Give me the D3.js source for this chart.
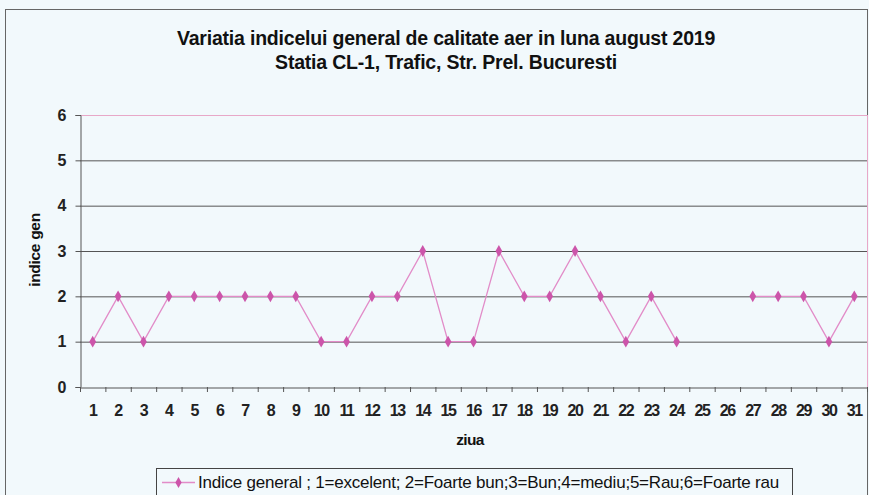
<!DOCTYPE html>
<html><head><meta charset="utf-8">
<script src="https://cdn.jsdelivr.net/npm/d3@7"></script>
<style>body{margin:0;background:#f2f9fc;}svg{display:block;font-family:"Liberation Sans",Arial,sans-serif;}</style>
</head><body>
<script>
const days = d3.range(1, 32).map(String);
const values = [1,2,1,2,2,2,2,2,2,1,1,2,2,3,1,1,3,2,2,3,2,1,2,1,null,null,2,2,2,1,2];
const yTicks = [0,1,2,3,4,5,6];
const titleLines = ["Variatia indicelui general de calitate aer in luna august 2019", "Statia CL-1, Trafic, Str. Prel. Bucuresti"];
const legendLabel = "Indice  general ; 1=excelent; 2=Foarte bun;3=Bun;4=mediu;5=Rau;6=Foarte rau";

const W = 869, H = 495;
const m = {left: 80, right: 867, top: 115, bottom: 387};
const svg = d3.select("body").append("svg").attr("width", W).attr("height", H);
svg.append("rect").attr("width", W).attr("height", H).attr("fill", "#f2f9fc");
svg.append("rect").attr("x", 5.5).attr("y", 9.5).attr("width", 862).attr("height", 500)
  .attr("fill", "none").attr("stroke", "#666").attr("stroke-width", 1);

const x = d3.scaleBand().domain(days).range([m.left, m.right]);
const y = d3.scaleLinear().domain([0, 6]).range([m.bottom, m.top]);

// gridlines
svg.append("g").selectAll("line").data(yTicks.filter(t => t > 0 && t < 6)).join("line")
  .attr("x1", m.left).attr("x2", m.right).attr("y1", d => y(d) + 0.5).attr("y2", d => y(d) + 0.5)
  .attr("stroke", "#555").attr("stroke-width", 1);
// plot border top/right pink
svg.append("line").attr("x1", m.left).attr("x2", m.right).attr("y1", y(6)+0.5).attr("y2", y(6)+0.5).attr("stroke", "#e8a8c8");
svg.append("line").attr("x1", m.right+0.5).attr("x2", m.right+0.5).attr("y1", y(6)).attr("y2", y(0)).attr("stroke", "#e8a8c8");

// y axis
const yAxis = svg.append("g").attr("transform", `translate(${m.left + 0.5},0)`)
  .call(d3.axisLeft(y).tickValues(yTicks).tickFormat(d3.format("d")).tickSize(5).tickPadding(9));
yAxis.select(".domain").attr("stroke", "#555");
yAxis.selectAll(".tick line").attr("stroke", "#555");
yAxis.selectAll("text").attr("font-size", 16).attr("fill", "#222").attr("font-weight", "bold");

// x axis
const xAxis = svg.append("g").attr("transform", `translate(0,${m.bottom + 0.5})`)
  .call(d3.axisBottom(x).tickSize(0).tickPadding(17));
xAxis.select(".domain").attr("stroke", "#555");
xAxis.selectAll("text").attr("font-size", 16).attr("fill", "#222").attr("font-weight", "bold").attr("letter-spacing", -1.4);
svg.append("g").selectAll("line").data(days.concat(["end"])).join("line")
  .attr("x1", d => (d === "end" ? m.right : x(d)) + 0.5).attr("x2", d => (d === "end" ? m.right : x(d)) + 0.5)
  .attr("y1", m.bottom).attr("y2", m.bottom + 5).attr("stroke", "#555");

// line
const pts = days.map((d, i) => ({d, v: values[i]}));
const line = d3.line().defined(p => p.v != null).x(p => x(p.d) + x.bandwidth() / 2).y(p => y(p.v));
svg.append("path").datum(pts).attr("d", line).attr("fill", "none").attr("stroke", "#e28cc8").attr("stroke-width", 1.3);
svg.append("g").selectAll("path").data(pts.filter(p => p.v != null)).join("path")
  .attr("transform", p => `translate(${x(p.d) + x.bandwidth() / 2},${y(p.v)})`)
  .attr("d", d3.symbol(d3.symbolDiamond, 40)).attr("fill", "#cc55aa");

// titles
svg.append("g").selectAll("text").data(titleLines).join("text")
  .attr("x", 446).attr("y", (d, i) => 45 + i * 24).attr("text-anchor", "middle")
  .attr("font-size", 19.5).attr("font-weight", "bold").attr("letter-spacing", -0.2).attr("fill", "#111").text(d => d);

// axis titles
svg.append("text").attr("transform", "translate(40,250) rotate(-90)").attr("text-anchor", "middle")
  .attr("font-size", 15.5).attr("font-weight", "bold").attr("letter-spacing", -0.3).attr("fill", "#111").text("indice gen");
svg.append("text").attr("x", 470).attr("y", 445).attr("text-anchor", "middle")
  .attr("font-size", 15.5).attr("font-weight", "bold").attr("letter-spacing", -0.6).attr("fill", "#111").text("ziua");

// legend
const lg = svg.append("g");
lg.append("rect").attr("x", 156.5).attr("y", 468.5).attr("width", 636).attr("height", 40)
  .attr("fill", "#f2f9fc").attr("stroke", "#444");
lg.append("line").attr("x1", 162).attr("x2", 195).attr("y1", 482.5).attr("y2", 482.5).attr("stroke", "#e28cc8").attr("stroke-width", 1.3);
lg.append("path").attr("transform", "translate(178.5,482.5)").attr("d", d3.symbol(d3.symbolDiamond, 34)).attr("fill", "#cc55aa");
lg.append("text").attr("x", 198).attr("y", 488).attr("font-size", 17).attr("letter-spacing", -0.22).attr("fill", "#111").text(legendLabel);
</script>
</body></html>
